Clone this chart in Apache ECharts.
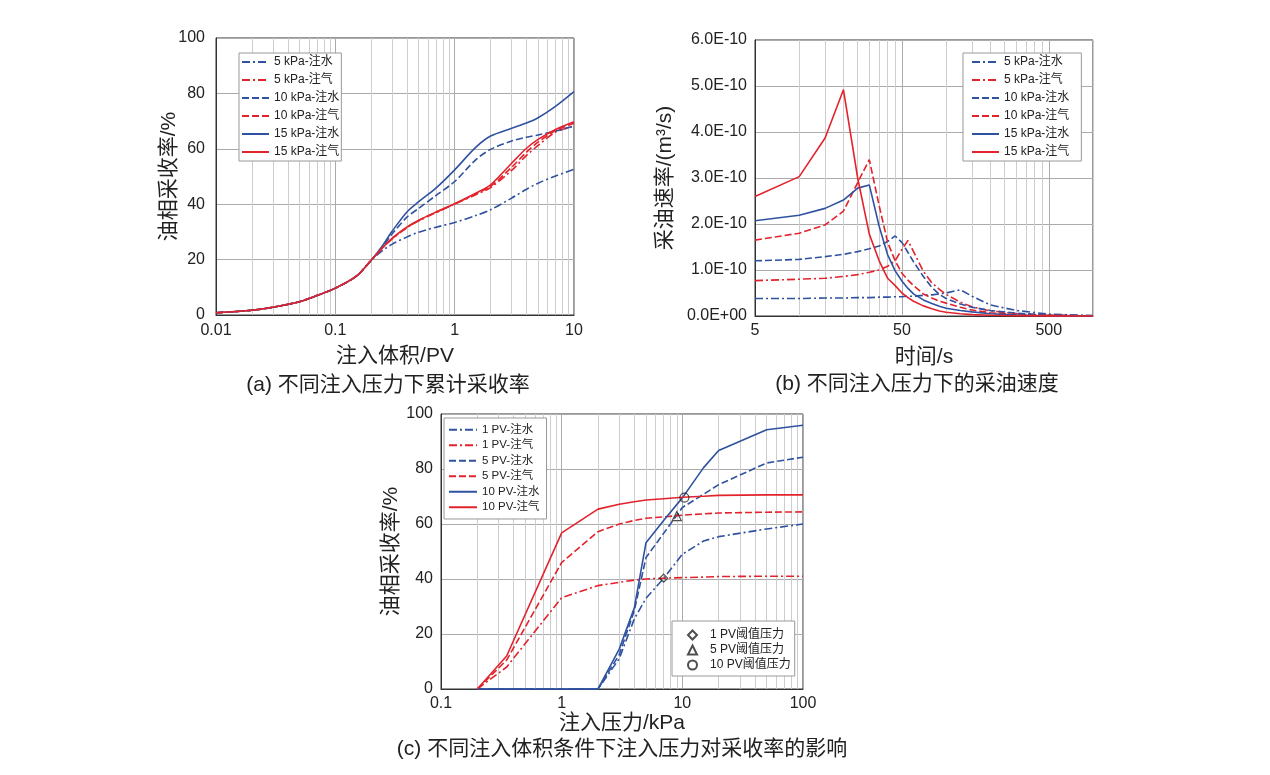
<!DOCTYPE html>
<html lang="zh">

<head>
    <meta charset="UTF-8">
    <title>注入压力对采收率的影响</title>
</head>
<style>
    html, body {
        margin: 0;
        padding: 0;
        background: #fff;
    }

    #chart {
        width: 1270px;
        height: 775px;
    }
</style>

<body>
    <div id="chart"></div>
    <script src="https://cdn.jsdelivr.net/npm/echarts@6.0.0/dist/echarts.min.js"></script>
    <script>
        // (a) 累计采收率 - 注入体积/PV
        var pvX = [0.01, 0.02, 0.03, 0.05, 0.07, 0.1, 0.15, 0.2, 0.25, 0.3, 0.4, 0.5, 0.7, 1, 1.5, 2, 3, 4, 5, 7, 10];
        var a5Water = [0.8, 1.7, 2.8, 4.8, 7.0, 9.7, 14.0, 19.8, 23.3, 25.6, 28.2, 29.9, 31.7, 33.4, 35.9, 38.0, 42.2, 45.4, 47.6, 50.2, 52.6];
        var a5Gas = [0.8, 1.7, 2.8, 4.8, 7.0, 9.7, 14.0, 19.8, 24.3, 27.5, 31.6, 34.0, 37.0, 40.0, 43.4, 46.0, 52.2, 57.6, 61.2, 66.0, 68.2];
        var a10Water = [0.8, 1.7, 2.8, 4.8, 7.0, 9.7, 14.0, 19.8, 24.8, 29.3, 35.4, 38.5, 43.2, 48.2, 56.0, 59.8, 62.8, 64.2, 65.0, 66.4, 68.2];
        var a10Gas = [0.8, 1.7, 2.8, 4.8, 7.0, 9.7, 14.0, 19.8, 24.4, 27.6, 31.7, 34.1, 37.1, 40.1, 43.7, 46.5, 53.3, 58.8, 62.4, 66.6, 69.2];
        var a15Water = [0.8, 1.7, 2.8, 4.8, 7.0, 9.7, 14.0, 19.8, 25.2, 30.3, 37.3, 40.9, 45.9, 52.4, 60.5, 64.6, 67.4, 69.3, 71.2, 75.3, 80.6];
        var a15Gas = [0.8, 1.7, 2.8, 4.8, 7.0, 9.7, 14.0, 19.8, 24.4, 27.8, 31.8, 34.2, 37.2, 40.2, 44.0, 47.0, 54.8, 60.2, 63.4, 67.0, 69.8];

        // (b) 采油速率 - 时间/s
        var timeX = [5, 10, 15, 20, 25, 30, 35, 40, 45, 50, 55, 60, 70, 80, 90, 100, 125, 150, 200, 300, 500, 1000];
        var b5Water = [0.38e-10, 0.38e-10, 0.39e-10, 0.39e-10, 0.40e-10, 0.40e-10, 0.41e-10, 0.41e-10, 0.42e-10, 0.42e-10, 0.43e-10, 0.43e-10, 0.45e-10, 0.46e-10, 0.48e-10, 0.50e-10, 0.57e-10, 0.43e-10, 0.24e-10, 0.12e-10, 0.04e-10, 0.01e-10];
        var b5Gas = [0.77e-10, 0.80e-10, 0.82e-10, 0.86e-10, 0.90e-10, 0.95e-10, 1.00e-10, 1.08e-10, 1.20e-10, 1.45e-10, 1.64e-10, 1.40e-10, 0.97e-10, 0.72e-10, 0.58e-10, 0.47e-10, 0.30e-10, 0.20e-10, 0.11e-10, 0.05e-10, 0.015e-10, 0];
        var b10Water = [1.20e-10, 1.23e-10, 1.29e-10, 1.34e-10, 1.40e-10, 1.46e-10, 1.52e-10, 1.62e-10, 1.74e-10, 1.60e-10, 1.38e-10, 1.18e-10, 0.86e-10, 0.62e-10, 0.47e-10, 0.38e-10, 0.26e-10, 0.19e-10, 0.12e-10, 0.06e-10, 0.02e-10, 0];
        var b10Gas = [1.65e-10, 1.80e-10, 1.98e-10, 2.28e-10, 2.90e-10, 3.40e-10, 2.40e-10, 1.60e-10, 1.20e-10, 0.93e-10, 0.78e-10, 0.66e-10, 0.48e-10, 0.39e-10, 0.32e-10, 0.28e-10, 0.19e-10, 0.13e-10, 0.07e-10, 0.03e-10, 0.01e-10, 0];
        var b15Water = [2.07e-10, 2.19e-10, 2.34e-10, 2.52e-10, 2.78e-10, 2.85e-10, 1.95e-10, 1.33e-10, 0.98e-10, 0.76e-10, 0.60e-10, 0.48e-10, 0.35e-10, 0.27e-10, 0.21e-10, 0.17e-10, 0.12e-10, 0.09e-10, 0.05e-10, 0.02e-10, 0.006e-10, 0];
        var b15Gas = [2.60e-10, 3.03e-10, 3.87e-10, 4.92e-10, 3.00e-10, 1.78e-10, 1.20e-10, 0.82e-10, 0.66e-10, 0.50e-10, 0.40e-10, 0.32e-10, 0.22e-10, 0.16e-10, 0.11e-10, 0.08e-10, 0.05e-10, 0.03e-10, 0.015e-10, 0.005e-10, 0.002e-10, 0];

        // (c) 采收率 - 注入压力/kPa
        var kpaX = [0.2, 0.35, 1, 2, 3, 4, 5, 7, 10, 15, 20, 50, 100];
        var c1Water = [0, 0, 0, 0, 11.0, 25.5, 33.0, 40.2, 49.0, 53.8, 55.4, 58.2, 60.0];
        var c1Gas = [0, 8.0, 33.2, 37.6, 38.8, 39.6, 40.0, 40.3, 40.5, 40.7, 40.9, 41.0, 41.0];
        var c5Water = [0, 0, 0, 0, 12.5, 28.5, 47.8, 56.6, 66.0, 70.8, 74.3, 82.2, 84.3];
        var c5Gas = [0, 10.5, 46.0, 57.2, 60.0, 61.3, 62.1, 62.6, 63.2, 63.7, 64.0, 64.3, 64.4];
        var c10Water = [0, 0, 0, 0, 14.5, 29.5, 53.2, 61.3, 69.5, 80.5, 86.7, 94.3, 95.9];
        var c10Gas = [0, 12.0, 56.8, 65.4, 67.2, 68.1, 68.7, 69.2, 69.7, 70.1, 70.4, 70.6, 70.6];
        // 阈值压力点 [kPa, %]
        var thr1PV = [7, 40.3];
        var thr5PV = [9, 62.9];
        var thr10PV = [10.4, 69.6];

        var namesA = ['5 kPa-注水', '5 kPa-注气', '10 kPa-注水', '10 kPa-注气', '15 kPa-注水', '15 kPa-注气'];
        var namesC = ['1 PV-注水', '1 PV-注气', '5 PV-注水', '5 PV-注气', '10 PV-注水', '10 PV-注气'];
        var namesThr = ['1 PV阈值压力', '5 PV阈值压力', '10 PV阈值压力'];

        var BLUE = '#2f52a0';
        var RED = '#e3232c';
        var DASHDOT = [8, 3, 2, 3];
        var DASHED = [7, 3];
        var FONT = "'Liberation Sans', 'Noto Sans CJK SC', sans-serif";
        var MAJOR = '#ababab';
        var MINOR = '#cdcdcd';

        function zip(xs, ys) {
            return xs.map(function (x, i) { return [x, ys[i]]; });
        }

        // log-axis minor grid: k * start * 10^d, k = 2..9
        function minorGrid(start, decades, max) {
            var out = [];
            for (var d = 0; d < decades; d++) {
                for (var k = 2; k <= 9; k++) {
                    var v = +(k * start * Math.pow(10, d)).toPrecision(6);
                    if (v <= max) out.push(v);
                }
            }
            return out;
        }

        function lineSeries(name, xs, ys, color, dash, idx, smooth) {
            return {
                name: name,
                type: 'line',
                xAxisIndex: idx,
                yAxisIndex: idx,
                data: zip(xs, ys),
                symbol: 'none',
                smooth: smooth ? 0.3 : false,
                clip: false,
                lineStyle: { color: color, width: 1.6, type: dash },
                itemStyle: { color: color },
                z: 3
            };
        }

        function gridLines(idx, values, color) {
            return {
                name: 'grid' + idx + color,
                type: 'line',
                xAxisIndex: idx,
                yAxisIndex: idx,
                data: [],
                silent: true,
                z: 1,
                markLine: {
                    silent: true,
                    z: 1,
                    symbol: ['none', 'none'],
                    label: { show: false },
                    emphasis: { disabled: true },
                    lineStyle: { color: color, width: 1, type: 'solid' },
                    data: values.map(function (v) { return { xAxis: v }; })
                }
            };
        }

        function sciLabel(v) {
            if (v === 0) return '0.0E+00';
            return v.toExponential(1).toUpperCase();
        }

        function plainLabel(v) {
            return String(+v.toPrecision(6));
        }

        var labelStyle = { fontSize: 16, color: '#222', fontFamily: FONT };
        var nameStyle = { fontSize: 21, color: '#222', fontFamily: FONT };
        var titleStyle = { fontSize: 21, color: '#222', fontWeight: 'normal', fontFamily: FONT };

        function legendBox(left, top, names, opts) {
            return Object.assign({
                left: left,
                top: top,
                orient: 'vertical',
                data: names,
                selectedMode: false,
                backgroundColor: '#fff',
                borderColor: '#999',
                borderWidth: 1,
                borderRadius: 0,
                itemWidth: 27,
                itemHeight: 14,
                itemGap: 6,
                // hide the marker drawn in the middle of line icons
                itemStyle: { opacity: 0 },
                textStyle: { fontSize: 12, color: '#222', fontFamily: FONT }
            }, opts);
        }

        var chart = echarts.init(document.getElementById('chart'));

        var option = {
            animation: false,
            backgroundColor: '#fff',
            title: [
                { text: '(a) 不同注入压力下累计采收率', left: 383, top: 370, textAlign: 'center', textStyle: titleStyle },
                { text: '(b) 不同注入压力下的采油速度', left: 912, top: 369, textAlign: 'center', textStyle: titleStyle },
                { text: '(c) 不同注入体积条件下注入压力对采收率的影响', left: 617, top: 734, textAlign: 'center', textStyle: titleStyle }
            ],
            grid: [
                { left: 216, top: 38, width: 358, height: 277, show: true, borderColor: '#333', borderWidth: 1 },
                { left: 755, top: 40, width: 338, height: 276, show: true, borderColor: '#333', borderWidth: 1 },
                { left: 441, top: 414, width: 362, height: 275, show: true, borderColor: '#333', borderWidth: 1 }
            ],
            legend: [
                legendBox(239, 53, namesA, { padding: [3, 2, 3, 2] }),
                legendBox(963, 53, namesA, { padding: [3, 12, 3, 8] }),
                legendBox(444, 418, namesC, {
                    padding: [6, 7, 6, 4], itemWidth: 28, itemHeight: 11, itemGap: 4,
                    textStyle: { fontSize: 11.5, color: '#222', fontFamily: FONT }
                }),
                legendBox(672, 621, namesThr, {
                    padding: [8, 4, 5, 15], itemWidth: 9, itemHeight: 9, itemGap: 3,
                    itemStyle: {},
                    textStyle: { fontSize: 12, color: '#222', fontFamily: FONT, padding: [0, 0, 0, 8] }
                })
            ],
            xAxis: [
                {
                    gridIndex: 0, type: 'log', logBase: 10, min: 0.01, max: 10,
                    name: '注入体积/PV', nameLocation: 'middle', nameGap: 31, nameMoveOverlap: false, nameTextStyle: nameStyle,
                    axisLine: { lineStyle: { color: '#333' } },
                    axisTick: { show: false },
                    axisLabel: Object.assign({ margin: 8, formatter: plainLabel }, labelStyle),
                    splitLine: { show: true, lineStyle: { color: MAJOR } }
                },
                {
                    gridIndex: 1, type: 'log', logBase: 10, min: 5, max: 1000,
                    name: '时间/s', nameLocation: 'middle', nameGap: 31, nameMoveOverlap: false, nameTextStyle: nameStyle,
                    axisLine: { lineStyle: { color: '#333' } },
                    axisTick: { show: false, customValues: [5, 50, 500] },
                    axisLabel: Object.assign({ margin: 7, customValues: [5, 50, 500], formatter: plainLabel }, labelStyle),
                    splitLine: { show: false }
                },
                {
                    gridIndex: 2, type: 'log', logBase: 10, min: 0.1, max: 100,
                    name: '注入压力/kPa', nameLocation: 'middle', nameGap: 24, nameMoveOverlap: false, nameTextStyle: nameStyle,
                    axisLine: { lineStyle: { color: '#333' } },
                    axisTick: { show: false },
                    axisLabel: Object.assign({ margin: 7, formatter: plainLabel }, labelStyle),
                    splitLine: { show: true, lineStyle: { color: MAJOR } }
                }
            ],
            yAxis: [
                {
                    gridIndex: 0, type: 'value', min: 0, max: 100, interval: 20,
                    name: '油相采收率/%', nameLocation: 'middle', nameRotate: 90, nameGap: 36, nameMoveOverlap: false, nameTextStyle: nameStyle,
                    axisLine: { show: true, lineStyle: { color: '#333' } },
                    axisTick: { show: false },
                    axisLabel: Object.assign({ margin: 11 }, labelStyle),
                    splitLine: { lineStyle: { color: MAJOR } }
                },
                {
                    gridIndex: 1, type: 'value', min: 0, max: 6e-10, interval: 1e-10,
                    name: '采油速率/(m³/s)', nameLocation: 'middle', nameRotate: 90, nameGap: 79, nameMoveOverlap: false, nameTextStyle: nameStyle,
                    axisLine: { show: true, lineStyle: { color: '#333' } },
                    axisTick: { show: false },
                    axisLabel: Object.assign({ margin: 8, formatter: sciLabel }, labelStyle),
                    splitLine: { lineStyle: { color: MAJOR } }
                },
                {
                    gridIndex: 2, type: 'value', min: 0, max: 100, interval: 20,
                    name: '油相采收率/%', nameLocation: 'middle', nameRotate: 90, nameGap: 39, nameMoveOverlap: false, nameTextStyle: nameStyle,
                    axisLine: { show: true, lineStyle: { color: '#333' } },
                    axisTick: { show: false },
                    axisLabel: Object.assign({ margin: 8 }, labelStyle),
                    splitLine: { lineStyle: { color: MAJOR } }
                }
            ],
            series: [
                gridLines(0, minorGrid(0.01, 3, 10), MINOR),
                gridLines(1, minorGrid(5, 3, 1000).filter(function (v) { return v !== 50 && v !== 500; }), MINOR),
                gridLines(1, [50, 500], MAJOR),
                gridLines(2, minorGrid(0.1, 3, 100), MINOR),

                lineSeries(namesA[0], pvX, a5Water, BLUE, DASHDOT, 0, true),
                lineSeries(namesA[1], pvX, a5Gas, RED, DASHDOT, 0, true),
                lineSeries(namesA[2], pvX, a10Water, BLUE, DASHED, 0, true),
                lineSeries(namesA[3], pvX, a10Gas, RED, DASHED, 0, true),
                lineSeries(namesA[4], pvX, a15Water, BLUE, 'solid', 0, true),
                lineSeries(namesA[5], pvX, a15Gas, RED, 'solid', 0, true),

                lineSeries(namesA[0], timeX, b5Water, BLUE, DASHDOT, 1, false),
                lineSeries(namesA[1], timeX, b5Gas, RED, DASHDOT, 1, false),
                lineSeries(namesA[2], timeX, b10Water, BLUE, DASHED, 1, false),
                lineSeries(namesA[3], timeX, b10Gas, RED, DASHED, 1, false),
                lineSeries(namesA[4], timeX, b15Water, BLUE, 'solid', 1, false),
                lineSeries(namesA[5], timeX, b15Gas, RED, 'solid', 1, false),

                lineSeries(namesC[0], kpaX, c1Water, BLUE, DASHDOT, 2, false),
                lineSeries(namesC[1], kpaX, c1Gas, RED, DASHDOT, 2, false),
                lineSeries(namesC[2], kpaX, c5Water, BLUE, DASHED, 2, false),
                lineSeries(namesC[3], kpaX, c5Gas, RED, DASHED, 2, false),
                lineSeries(namesC[4], kpaX, c10Water, BLUE, 'solid', 2, false),
                lineSeries(namesC[5], kpaX, c10Gas, RED, 'solid', 2, false),

                { name: namesThr[0], type: 'scatter', xAxisIndex: 2, yAxisIndex: 2, data: [thr1PV], symbol: 'diamond', symbolSize: 8, z: 4,
                  itemStyle: { color: 'rgba(255,255,255,0)', borderColor: '#222', borderWidth: 1.2 } },
                { name: namesThr[1], type: 'scatter', xAxisIndex: 2, yAxisIndex: 2, data: [thr5PV], symbol: 'triangle', symbolSize: 9, z: 4,
                  itemStyle: { color: 'rgba(255,255,255,0)', borderColor: '#222', borderWidth: 1.2 } },
                { name: namesThr[2], type: 'scatter', xAxisIndex: 2, yAxisIndex: 2, data: [thr10PV], symbol: 'circle', symbolSize: 9, z: 4,
                  itemStyle: { color: 'rgba(255,255,255,0)', borderColor: '#222', borderWidth: 1.2 } }
            ]
        };

        chart.setOption(option);
    </script>
</body>
</html>
